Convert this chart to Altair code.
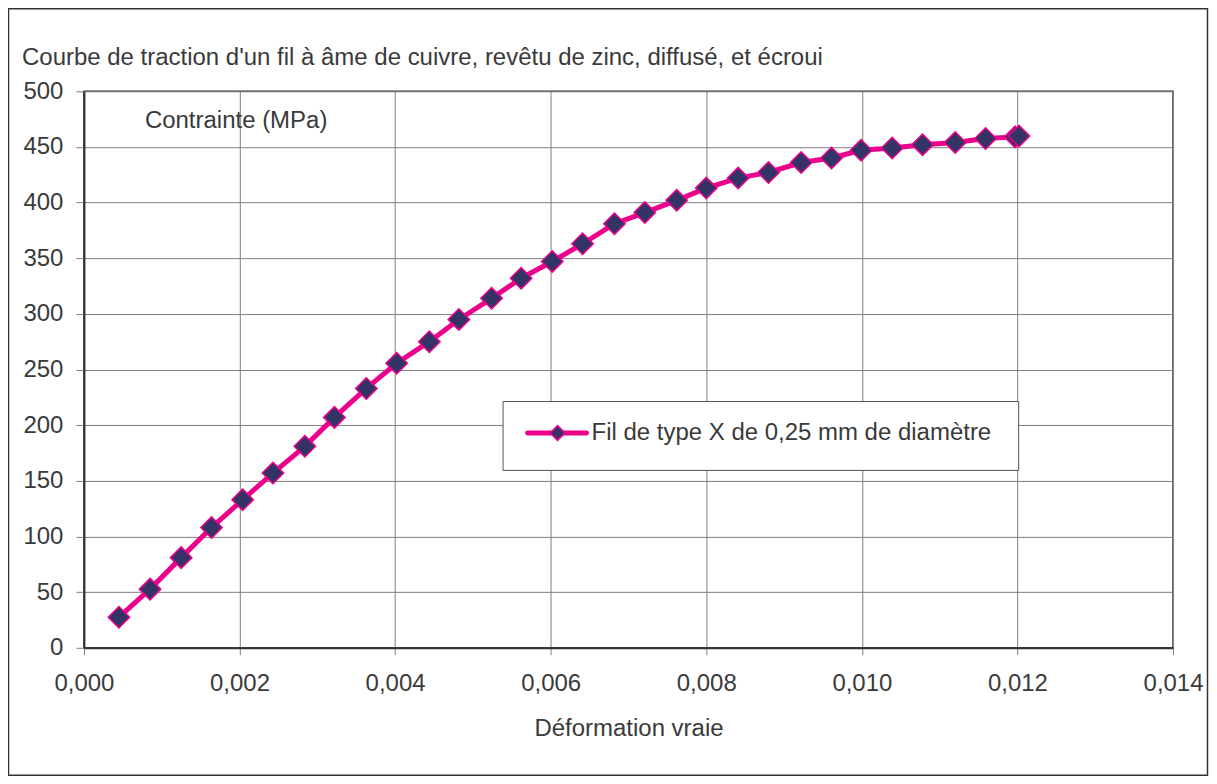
import altair as alt
import pandas as pd

# Data
strain = [0.00045, 0.00085, 0.00125, 0.00164, 0.00204, 0.00243, 0.00284, 0.00322,
          0.00363, 0.00402, 0.00444, 0.00482, 0.00524, 0.00562, 0.00602, 0.00641,
          0.00682, 0.00721, 0.00762, 0.00800, 0.00841, 0.00880, 0.00922, 0.00961,
          0.00999, 0.01039, 0.01078, 0.01120, 0.01159, 0.01197, 0.01202]
stress = [27.5, 52.7, 81, 108, 133, 157, 181, 207,
          233, 255.6, 275, 295, 314, 332, 347, 363,
          381, 391, 402, 413, 422, 427, 436, 440,
          447, 449, 452, 454, 457.5, 459, 459.8]
x_ticks = [0.0, 0.002, 0.004, 0.006, 0.008, 0.010, 0.012, 0.014]
y_ticks = [0, 50, 100, 150, 200, 250, 300, 350, 400, 450, 500]

title_text = "Courbe de traction d'un fil à âme de cuivre, revêtu de zinc, diffusé, et écroui"
y_label_text = "Contrainte (MPa)"
x_title_text = "Déformation vraie"
series_name = "Fil de type X de 0,25 mm de diamètre"

FONT = "Liberation Sans"
TXT = "#3a3a3a"
PINK = "#EC008C"
NAVY = "#333366"
FS = 24

df = pd.DataFrame({"strain": strain, "stress": stress})
one = pd.DataFrame({"k": [0]})

x_enc = alt.X("strain:Q",
              scale=alt.Scale(domain=[0, 0.014], nice=False, zero=False),
              axis=alt.Axis(values=x_ticks,
                            labelExpr="replace(format(datum.value, '.3f'), '.', ',')",
                            grid=True, gridColor="#808080", gridWidth=1,
                            tickColor="#808080", tickSize=7,
                            domainColor="#333333", domainWidth=2,
                            labelFont=FONT, labelFontSize=FS, labelColor=TXT,
                            labelPadding=17, labelFlush=False, labelOverlap=False,
                            title=x_title_text, titleFont=FONT, titleFontSize=FS,
                            titleFontWeight="normal", titleColor=TXT,
                            titleBaseline="alphabetic", titleY=88))
y_enc = alt.Y("stress:Q",
              scale=alt.Scale(domain=[0, 500], nice=False),
              axis=alt.Axis(values=y_ticks, format="d",
                            grid=True, gridColor="#808080", gridWidth=1,
                            tickColor="#808080", tickSize=8,
                            domainColor="#333333", domainWidth=2,
                            labelFont=FONT, labelFontSize=FS, labelColor=TXT,
                            labelPadding=13, labelFlush=False, labelOverlap=False,
                            title=None))

line = alt.Chart(df).mark_line(color=PINK, strokeWidth=5).encode(x=x_enc, y=y_enc, order="strain:Q")
pts = alt.Chart(df).mark_point(shape="diamond", filled=True, fill=NAVY, stroke=PINK,
                               strokeWidth=1.5, size=460, opacity=1).encode(x="strain:Q", y="stress:Q")

# outer frame
frame = alt.Chart(one).mark_rect(filled=False, stroke="#333333", strokeWidth=1.5).encode(
    x=alt.value(-75.5), x2=alt.value(1124.5), y=alt.value(-82.5), y2=alt.value(684.5))

title = alt.Chart(one).mark_text(align="left", baseline="alphabetic", font=FONT,
                                 fontSize=FS, color=TXT).encode(
    x=alt.value(-62), y=alt.value(-26), text=alt.value(title_text))

ylab = alt.Chart(one).mark_text(align="left", baseline="alphabetic", font=FONT,
                                fontSize=FS, color=TXT).encode(
    x=alt.value(61), y=alt.value(37), text=alt.value(y_label_text))

# legend box
leg_box = alt.Chart(one).mark_rect(fill="white", stroke="#555555", strokeWidth=1).encode(
    x=alt.value(419.5), x2=alt.value(935.5), y=alt.value(310.5), y2=alt.value(379.5))
leg_line = alt.Chart(one).mark_rule(color=PINK, strokeWidth=5, strokeCap="round").encode(
    x=alt.value(444), x2=alt.value(503), y=alt.value(342))
leg_pt = alt.Chart(one).mark_point(shape="diamond", filled=True, fill=NAVY, stroke=PINK,
                                   strokeWidth=1.5, size=220, opacity=1).encode(
    x=alt.value(474), y=alt.value(342))
leg_txt = alt.Chart(one).mark_text(align="left", baseline="middle", font=FONT,
                                   fontSize=FS, color=TXT).encode(
    x=alt.value(508), y=alt.value(342), text=alt.value(series_name))

chart = alt.layer(line, pts, frame, title, ylab, leg_box, leg_line, leg_pt, leg_txt).properties(
    width=1090, height=557,
    padding={"left": 76, "top": 83, "right": 36, "bottom": 128},
    autosize=alt.AutoSizeParams(type="none"),
    background="white",
).configure_view(stroke="#333333", strokeWidth=1.5)

chart.save("out.html", embed_options={"renderer": "svg", "actions": False})
